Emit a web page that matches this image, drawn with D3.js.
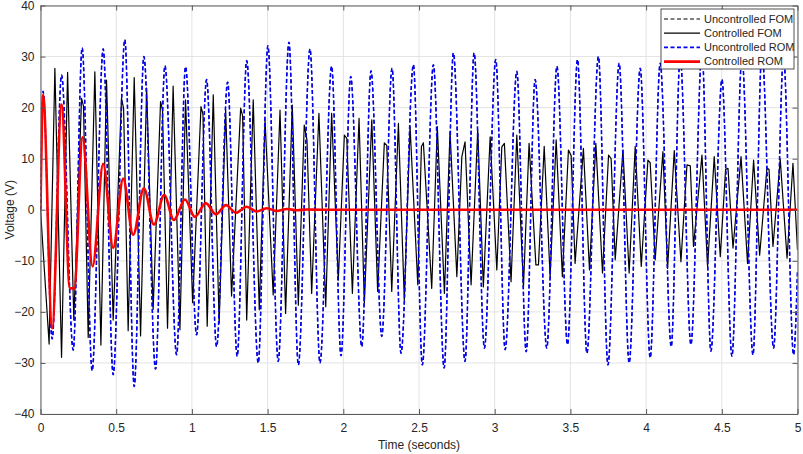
<!DOCTYPE html>
<html>
<head>
<meta charset="utf-8">
<script src="https://cdn.jsdelivr.net/npm/d3@7"></script>
<style>
  body { margin: 0; background: #fff; }
  text { font-family: "Liberation Sans", Arial, sans-serif; fill: #262626; }
</style>
</head>
<body>
<svg id="chart" width="803" height="454"></svg>
<script>
// axis ticks
var X_TICKS = [0, 0.5, 1, 1.5, 2, 2.5, 3, 3.5, 4, 4.5, 5];
var Y_TICKS = [-40, -30, -20, -10, 0, 10, 20, 30, 40];

// Uncontrolled ROM (blue dashed) - peaks / troughs
var romTime = [0, 0.017, 0.077, 0.139, 0.216, 0.275, 0.341, 0.414, 0.480, 0.557, 0.619,
  0.683, 0.760, 0.822, 0.899, 0.958, 1.031, 1.097, 1.163, 1.236, 1.299, 1.362, 1.438,
  1.502, 1.570, 1.641, 1.703, 1.780, 1.846, 1.923, 1.985, 2.049, 2.122, 2.183, 2.254,
  2.322, 2.381, 2.463, 2.522, 2.595, 2.666, 2.727, 2.804, 2.864, 2.932, 3.007, 3.069,
  3.146, 3.208, 3.267, 3.344, 3.411, 3.481, 3.547, 3.609, 3.685, 3.748, 3.822, 3.888,
  3.961, 4.027, 4.093, 4.166, 4.225, 4.296, 4.369, 4.428, 4.501, 4.567, 4.633, 4.706,
  4.765, 4.842, 4.908, 4.974, 5.0];
var romVolt = [0, 23.2, -25.3, 26.4, -27.5, 31.7, -31.5, 31.5, -32.3, 33.3, -34.6,
  30.0, -31.2, 28.2, -28.4, 28.0, -24.5, 25.5, -26.8, 25.0, -28.7, 29.2, -30.0,
  32.1, -29.7, 32.8, -30.4, 31.5, -30.0, 28.1, -28.6, 26.1, -26.8, 27.2, -24.8,
  27.7, -28.1, 28.4, -30.4, 28.4, -31.0, 30.7, -29.7, 30.7, -27.1, 29.4, -27.4,
  27.1, -27.8, 25.5, -27.1, 28.1, -26.4, 29.4, -28.1, 30.0, -30.4, 28.7, -30.0,
  27.7, -29.0, 28.7, -26.8, 30.0, -26.4, 31.0, -27.7, 25.5, -28.7, 30.0, -28.4,
  31.0, -27.1, 30.0, -28.4, -12.0];

// Controlled FOM (black solid)
var fomTime = [0, 0.057, 0.095, 0.139, 0.179, 0.220, 0.271, 0.284, 0.315, 0.359, 0.399,
  0.436, 0.480, 0.535, 0.549, 0.579, 0.619, 0.661, 0.701, 0.744, 0.793, 0.806, 0.839,
  0.876, 0.921, 0.958, 1.005, 1.060, 1.073, 1.101, 1.141, 1.180, 1.223, 1.262, 1.322,
  1.335, 1.362, 1.405, 1.445, 1.483, 1.537, 1.582, 1.619, 1.663, 1.703, 1.742, 1.760,
  1.791, 1.839, 1.884, 1.923, 1.967, 2.007, 2.023, 2.060, 2.104, 2.139, 2.188, 2.227,
  2.271, 2.287, 2.320, 2.364, 2.403, 2.441, 2.492, 2.516, 2.529, 2.584, 2.621, 2.668,
  2.705, 2.750, 2.783, 2.804, 2.844, 2.888, 2.925, 2.970, 3.014, 3.047, 3.064, 3.108,
  3.146, 3.190, 3.227, 3.272, 3.289, 3.327, 3.366, 3.406, 3.447, 3.487, 3.505, 3.531,
  3.586, 3.626, 3.668, 3.712, 3.752, 3.769, 3.796, 3.847, 3.888, 3.928, 3.968, 4.012,
  4.027, 4.060, 4.111, 4.142, 4.186, 4.230, 4.270, 4.292, 4.313, 4.369, 4.406, 4.450,
  4.490, 4.525, 4.541, 4.574, 4.627, 4.670, 4.710, 4.750, 4.798, 4.812, 4.838, 4.886,
  4.931, 4.970, 5.0];
var fomVolt = [0, -26.3, 27.7, -28.9, 26.9, -21.6, 21.8, 20.3, -25.0, 27.0, -26.5,
  25.4, -21.6, 21.8, 19.8, -23.7, 25.9, -24.7, 23.8, -19.5, 21.2, 19.5, -23.2,
  24.2, -23.5, 21.5, -18.2, 20.2, 18.7, -22.8, 22.5, -22.2, 19.5, -16.9, 19.9,
  18.4, -21.6, 21.5, -19.6, 17.6, -16.7, 19.5, -20.3, 20.5, -18.7, 16.6, 13.7,
  -16.4, 18.9, -19.0, 18.9, -13.8, 14.6, 14.0, -16.4, 17.9, -18.3, 17.6, -16.0,
  13.1, 12.6, -16.0, 16.9, -17.7, 16.3, -14.7, 12.4, 13.1, -15.4, 16.3, -16.4,
  15.3, -13.1, 10.4, 13.3, -14.7, 15.6, -15.1, 14.3, -11.8, 12.3, 13.0, -14.1,
  14.6, -15.1, 13.0, -10.8, -10.8, 12.4, -13.1, 13.7, -13.1, 11.7, 10.6, -10.5,
  12.0, -11.8, 13.0, -12.4, 10.7, 10.0, -9.8, 11.7, -12.4, 12.4, -11.1, 9.7,
  9.2, -9.8, 11.4, -11.5, 11.6, -10.2, 8.8, 8.6, -7.2, 10.7, -11.1, 10.4,
  -9.2, 7.9, 8.1, -7.5, 10.4, -10.5, 9.7, -8.9, 8.1, 7.9, -7.2, 9.9,
  -9.5, 9.1, -7.9];

// Controlled ROM (red solid)
var cromTime = [0, 0.017, 0.077, 0.139, 0.194, 0.223, 0.278, 0.344, 0.414, 0.480, 0.546,
  0.612, 0.683, 0.749, 0.817, 0.881, 0.954, 1.020, 1.091, 1.159, 1.225, 1.291, 1.361,
  1.428, 1.494, 1.560, 1.628, 1.694, 1.760, 1.850, 5.0];
var cromVolt = [0, 22.5, -23.2, 20.6, -15.4, -15.4, 14.2, -11.1, 9.0, -7.5, 6.1,
  -4.9, 4.2, -2.9, 2.9, -2.0, 2.0, -1.4, 1.3, -0.9, 0.9, -0.6, 0.6,
  -0.35, 0.3, -0.25, 0.15, -0.1, 0.05, 0, 0];

var SERIES = ["Uncontrolled FOM", "Controlled FOM", "Uncontrolled ROM", "Controlled ROM"];

var W = 803, H = 454;
var PLOT = { left: 40.5, right: 797.5, top: 5.5, bottom: 414 };

function zip(ts, vs) {
    return ts.map(function(t, i) { return { t: t, v: vs[i] }; });
}

function main() {
    var svg = d3.select("#chart");
    var x = d3.scaleLinear().domain([0, 5]).range([PLOT.left, PLOT.right]);
    var y = d3.scaleLinear().domain([-40, 40]).range([PLOT.bottom, PLOT.top]);

    // grid
    var grid = svg.append("g").attr("class", "grid");
    grid.selectAll(".gx").data(X_TICKS).enter().append("line")
        .attr("x1", function(d) { return x(d); }).attr("x2", function(d) { return x(d); })
        .attr("y1", PLOT.top).attr("y2", PLOT.bottom)
        .attr("stroke", "#e3e3e3").attr("stroke-width", 1);
    grid.selectAll(".gy").data(Y_TICKS).enter().append("line")
        .attr("y1", function(d) { return y(d); }).attr("y2", function(d) { return y(d); })
        .attr("x1", PLOT.left).attr("x2", PLOT.right)
        .attr("stroke", "#e3e3e3").attr("stroke-width", 1);

    svg.append("clipPath").attr("id", "clip").append("rect")
        .attr("x", PLOT.left).attr("y", PLOT.top)
        .attr("width", PLOT.right - PLOT.left).attr("height", PLOT.bottom - PLOT.top);

    var smooth = d3.line().curve(d3.curveMonotoneX)
        .x(function(d) { return x(d.t); }).y(function(d) { return y(d.v); });
    var straight = d3.line()
        .x(function(d) { return x(d.t); }).y(function(d) { return y(d.v); });

    var lines = svg.append("g").attr("clip-path", "url(#clip)");

    // uncontrolled FOM sits under the ROM trace (they coincide)
    lines.append("path").attr("d", smooth(zip(romTime, romVolt)))
        .attr("fill", "none").attr("stroke", "#000").attr("stroke-width", 1)
        .attr("stroke-dasharray", "4,2.5");
    lines.append("path").attr("d", straight(zip(fomTime, fomVolt)))
        .attr("fill", "none").attr("stroke", "#000").attr("stroke-width", 1.2)
        .attr("stroke-linejoin", "round");
    lines.append("path").attr("d", smooth(zip(romTime, romVolt)))
        .attr("fill", "none").attr("stroke", "#0000ff").attr("stroke-width", 1.6)
        .attr("stroke-dasharray", "4,2.5");
    lines.append("path").attr("d", smooth(zip(cromTime, cromVolt)))
        .attr("fill", "none").attr("stroke", "#ff0000").attr("stroke-width", 2.6)
        .attr("stroke-linejoin", "round");

    // axes (ticks inside, box on)
    var axisColor = "#5a5a5a";
    function styleAxis(g) {
        g.select(".domain").attr("stroke", axisColor);
        g.selectAll(".tick line").attr("stroke", axisColor);
        g.selectAll(".tick text").style("font-size", "12px")
            .style("font-family", "'Liberation Sans', Arial, sans-serif").attr("fill", "#262626");
    }
    svg.append("g").attr("transform", "translate(0," + PLOT.bottom + ")")
        .call(d3.axisBottom(x).tickValues(X_TICKS).tickSizeInner(-5).tickSizeOuter(0)
              .tickPadding(9).tickFormat(d3.format("")))
        .call(styleAxis);
    svg.append("g").attr("transform", "translate(0," + PLOT.top + ")")
        .call(d3.axisTop(x).tickValues(X_TICKS).tickSizeInner(-5).tickSizeOuter(0).tickFormat(""))
        .call(styleAxis);
    svg.append("g").attr("transform", "translate(" + PLOT.left + ",0)")
        .call(d3.axisLeft(y).tickValues(Y_TICKS).tickSizeInner(-5).tickSizeOuter(0)
              .tickPadding(6).tickFormat(d3.format("")))
        .call(styleAxis);
    svg.append("g").attr("transform", "translate(" + PLOT.right + ",0)")
        .call(d3.axisRight(y).tickValues(Y_TICKS).tickSizeInner(-5).tickSizeOuter(0).tickFormat(""))
        .call(styleAxis);

    svg.append("text")
        .attr("x", (PLOT.left + PLOT.right) / 2).attr("y", 449)
        .attr("text-anchor", "middle").style("font-size", "12px")
        .text("Time (seconds)");
    svg.append("text")
        .attr("transform", "translate(14," + ((PLOT.top + PLOT.bottom) / 2) + ") rotate(-90)")
        .attr("text-anchor", "middle").style("font-size", "12px")
        .text("Voltage (V)");

    addLegend(svg);
}

function addLegend(svg) {
    var styles = [
        { color: "#000", width: 1, dash: "4,2.5" },
        { color: "#000", width: 1.2, dash: null },
        { color: "#0000ff", width: 1.6, dash: "4,2.5" },
        { color: "#ff0000", width: 2.6, dash: null }
    ];
    var lg = svg.append("g").attr("transform", "translate(661,9)");
    lg.append("rect").attr("width", 133).attr("height", 60)
        .attr("fill", "#fff").attr("stroke", "#262626").attr("stroke-width", 0.8);
    var row = lg.selectAll(".legend").data(SERIES).enter().append("g")
        .attr("class", "legend")
        .attr("transform", function(d, i) { return "translate(0," + (10 + 14.2 * i) + ")"; });
    row.append("line").attr("x1", 3).attr("x2", 39)
        .attr("stroke", function(d, i) { return styles[i].color; })
        .attr("stroke-width", function(d, i) { return styles[i].width; })
        .attr("stroke-dasharray", function(d, i) { return styles[i].dash; });
    row.append("text").attr("x", 43).attr("dy", "0.35em")
        .style("font-size", "11px")
        .text(function(d) { return d; });
}

main();
</script>
</body>
</html>
